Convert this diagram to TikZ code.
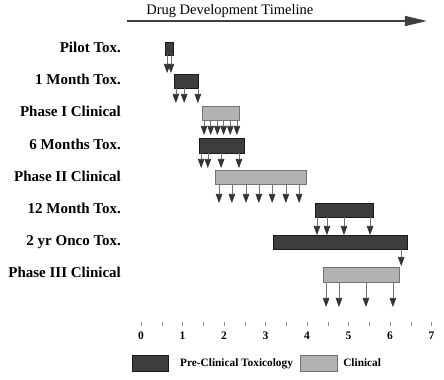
\documentclass[tikz,border=0pt]{standalone}
\usepackage{fontspec}
\setmainfont{Liberation Serif}
\usetikzlibrary{arrows.meta}
\tikzset{
  toxbar/.style={draw=black!90, fill=black!76, line width=0.6pt},
  clinbar/.style={draw=black!55, fill=black!30, line width=0.6pt},
  drop/.style={draw=black!55, line width=0.6pt, -{Triangle[length=9pt,width=6.5pt,color=black!80]}},
  rowlabel/.style={anchor=base east, inner sep=0pt, font=\fontsize{15}{17}\selectfont\bfseries},
  legendtext/.style={anchor=base west, inner sep=0pt, font=\fontsize{11.3}{13}\selectfont\bfseries},
}
\begin{document}
\begin{tikzpicture}[x=41.5pt, y=-1pt]
         \useasboundingbox (-3.398,0) rectangle (7.301,380);
         \node[anchor=base, inner sep=0pt, font=\fontsize{14.5}{16}\selectfont] (title) at (2.14,15){Drug Development Timeline};
             \coordinate (tlstart) at (-0.337,21);
             \coordinate (tlend) at (6.89,21);
             \draw[black!75, line width=1.5pt, -{Triangle[length=22pt,width=10pt]}] (tlstart) -- (tlend);
         \node[rowlabel] (pilot) at (-0.48,53){Pilot Tox.};
             \draw[toxbar] (0.58,42) rectangle (0.77,55);
             \foreach \t in {0.63,0.72} \draw[drop] (\t,55) -- (\t,73);
         \node[rowlabel] (month1) at (-0.48,85){1 Month Tox.};
             \draw[toxbar] (0.8,74) rectangle (1.38,88);
             \foreach \t in {0.84,1.04,1.37} \draw[drop] (\t,88) -- (\t,103);
         \node[rowlabel] (phase1) at (-0.48,117){Phase I Clinical};
             \draw[clinbar] (1.47,106) rectangle (2.36,120);
             \foreach \t in {1.52,1.68,1.84,1.99,2.15,2.31} \draw[drop] (\t,120) -- (\t,135);
         \node[rowlabel] (month6) at (-0.48,150){6 Months Tox.};
             \draw[toxbar] (1.4,138) rectangle (2.48,153);
             \foreach \t in {1.45,1.61,1.93,2.36} \draw[drop] (\t,153) -- (\t,168);
         \node[rowlabel] (phase2) at (-0.48,182){Phase II Clinical};
             \draw[clinbar] (1.78,170) rectangle (3.98,184);
             \foreach \t in {1.88,2.19,2.53,2.84,3.16,3.49,3.81} \draw[drop] (\t,184) -- (\t,203);
         \node[rowlabel] (month12) at (-0.48,214){12 Month Tox.};
             \draw[toxbar] (4.2,203) rectangle (5.6,217);
             \foreach \t in {4.24,4.48,4.89,5.52} \draw[drop] (\t,217) -- (\t,235);
         \node[rowlabel] (onco) at (-0.48,246){2 yr Onco Tox.};
             \draw[toxbar] (3.18,235) rectangle (6.42,249);
             \draw[drop] (6.27,249) -- (6.27,266);
         \node[rowlabel] (phase3) at (-0.48,278){Phase III Clinical};
             \draw[clinbar] (4.4,267) rectangle (6.22,282);
             \foreach \t in {4.46,4.77,5.42,6.07} \draw[drop] (\t,282) -- (\t,307);
         \foreach \t in {0,0.5,...,7} \draw[black!45, line width=0.4pt] (\t,322) -- (\t,326);
         \foreach \t in {0,...,7} \node[anchor=base, inner sep=0pt, font=\fontsize{11.5}{13}\selectfont\bfseries] (year\t) at (\t,340){\t};
         \draw[toxbar] (-0.217,355) rectangle (0.651,371);
             \node[legendtext] (preclin) at (0.94,367){Pre-Clinical Toxicology};
         \draw[clinbar] (3.83,355) rectangle (4.72,371);
             \node[legendtext] (clin) at (4.87,367){Clinical};
     \end{tikzpicture}
\end{document}
